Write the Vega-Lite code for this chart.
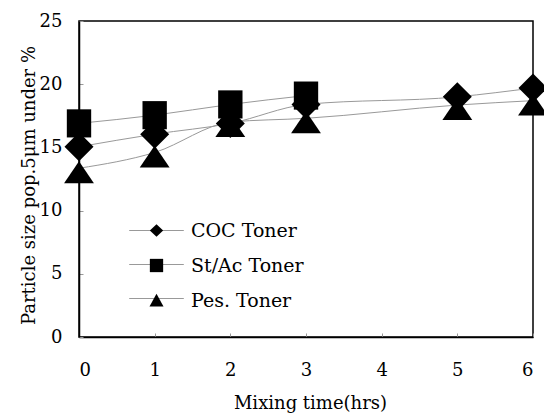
{
  "$schema": "https://vega.github.io/schema/vega-lite/v6.json",
  "width": 454,
  "height": 316,
  "autosize": {"type": "none"},
  "padding": {"left": 79, "top": 21, "right": 11, "bottom": 77},
  "background": "white",
  "config": {
    "font": "DejaVu Serif",
    "view": {"stroke": "black", "strokeWidth": 1.5},
    "axis": {
      "labelFont": "DejaVu Serif",
      "titleFont": "DejaVu Serif",
      "labelFontSize": 18,
      "titleFontSize": 18,
      "titleFontWeight": "normal",
      "labelColor": "black",
      "titleColor": "black",
      "domainColor": "black",
      "tickColor": "#999999",
      "grid": false
    },
    "legend": {"labelFont": "DejaVu Serif"}
  },
  "data": {
    "values": [
      {"series": "COC Toner", "time": 0, "value": 15.05},
      {"series": "COC Toner", "time": 1, "value": 16.05},
      {"series": "COC Toner", "time": 2, "value": 16.9},
      {"series": "COC Toner", "time": 3, "value": 18.4},
      {"series": "COC Toner", "time": 5, "value": 19.0},
      {"series": "COC Toner", "time": 6, "value": 19.7},
      {"series": "St/Ac Toner", "time": 0, "value": 16.9},
      {"series": "St/Ac Toner", "time": 1, "value": 17.55},
      {"series": "St/Ac Toner", "time": 2, "value": 18.4},
      {"series": "St/Ac Toner", "time": 3, "value": 19.1},
      {"series": "Pes. Toner", "time": 0, "value": 13.35},
      {"series": "Pes. Toner", "time": 1, "value": 14.6},
      {"series": "Pes. Toner", "time": 2, "value": 17.0},
      {"series": "Pes. Toner", "time": 3, "value": 17.3},
      {"series": "Pes. Toner", "time": 5, "value": 18.35},
      {"series": "Pes. Toner", "time": 6, "value": 18.7}
    ]
  },
  "encoding": {
    "x": {
      "field": "time", "type": "quantitative",
      "scale": {"domain": [0, 6], "nice": false},
      "axis": {"title": "Mixing time(hrs)", "values": [0,1,2,3,4,5,6], "tickSize": -4, "labelPadding": 28, "titlePadding": 15, "titleX": 231, "domainWidth": 1.5}
    },
    "y": {
      "field": "value", "type": "quantitative",
      "scale": {"domain": [0, 25], "nice": false},
      "axis": {"title": "Particle size pop.5μm under %", "values": [0,5,10,15,20,25], "tickSize": -4, "labelPadding": 21, "titlePadding": 1, "titleY": 164, "domainWidth": 1.5}
    }
  },
  "layer": [
    {
      "mark": {"type": "line", "interpolate": "monotone", "color": "#999999", "strokeWidth": 1},
      "encoding": {"detail": {"field": "series"}}
    },
    {
      "mark": {"type": "point", "filled": true, "color": "black", "opacity": 1, "size": 841},
      "encoding": {
        "shape": {
          "field": "series", "type": "nominal",
          "scale": {
            "domain": ["COC Toner", "St/Ac Toner", "Pes. Toner"],
            "range": [
              "M0,-1L1,0L0,1L-1,0Z",
              "M-0.84,-0.97H0.84V0.97H-0.84Z",
              "M0,-0.48L1.03,1.03H-1.03Z"
            ]
          },
          "legend": null
        }
      }
    },
    {
      "transform": [{"filter": "false"}],
      "mark": {"type": "point", "filled": true, "color": "#999999", "opacity": 1},
      "encoding": {
        "shape": {
          "field": "series", "type": "nominal",
          "scale": {
            "domain": ["COC Toner", "St/Ac Toner", "Pes. Toner"],
            "range": [
              "M-3.9,-0.07L3.9,-0.07L3.9,0.07L-3.9,0.07Z",
              "M-3.9,-0.071L3.9,-0.071L3.9,0.071L-3.9,0.071Z",
              "M-3.9,-0.072L3.9,-0.072L3.9,0.072L-3.9,0.072Z"
            ]
          },
          "legend": {
            "title": null,
            "orient": "none",
            "legendX": 68,
            "legendY": 200,
            "padding": 0,
            "symbolSize": 196,
            "symbolFillColor": "#999999",
            "symbolOpacity": 1,
            "labelExpr": "''",
            "labelFontSize": 19,
            "labelOffset": 25,
            "rowPadding": 14,
            "zindex": 0
          }
        }
      }
    },
    {
      "transform": [{"filter": "false"}],
      "mark": {"type": "point", "filled": true, "color": "black", "opacity": 1},
      "encoding": {
        "shape": {
          "field": "series", "type": "nominal",
          "scale": {
            "domain": ["COC Toner", "St/Ac Toner", "Pes. Toner"],
            "range": [
              "M0,-0.9L0.95,0L0,0.9L-0.95,0Z",
              "M-0.95,-0.95L0.95,-0.95L0.95,0.95L-0.95,0.95Z",
              "M0,-0.95L1,0.85L-1,0.85Z"
            ]
          },
          "legend": {
            "title": null,
            "orient": "none",
            "legendX": 68,
            "legendY": 200,
            "padding": 0,
            "symbolSize": 196,
            "symbolFillColor": "black",
            "symbolOpacity": 1,
            "labelFont": "DejaVu Serif",
            "labelFontSize": 19,
            "labelColor": "black",
            "labelOffset": 25,
            "rowPadding": 14,
            "zindex": 1
          }
        }
      }
    }
  ],
  "resolve": {"scale": {"shape": "independent"}, "legend": {"shape": "independent"}}
}
